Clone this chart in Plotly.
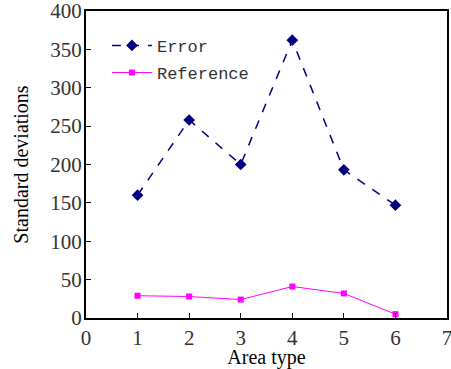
import plotly.graph_objects as go

area_type = [1, 2, 3, 4, 5, 6]
error_vals = [160, 258, 200, 362, 193, 147]
reference_vals = [29, 28, 24, 41, 32, 5]
x_ticks = [0, 1, 2, 3, 4, 5, 6, 7]
y_ticks = [0, 50, 100, 150, 200, 250, 300, 350, 400]

fig = go.Figure()
fig.add_trace(go.Scatter(
    x=area_type, y=error_vals, name="Error", mode="lines+markers",
    legendgroup="e",
    line=dict(color="#000080", width=1.5, dash="dash"),
    marker=dict(symbol="diamond", size=9, color="#000080"),
))
fig.add_trace(go.Scatter(
    x=area_type, y=reference_vals, name="Reference", mode="lines+markers",
    legendgroup="r",
    line=dict(color="#FF00FF", width=1),
    marker=dict(symbol="square", size=6, color="#FF00FF"),
))

serif = "Liberation Serif, Times New Roman, serif"
fig.update_layout(
    width=451, height=369,
    margin=dict(l=86, r=4, t=11, b=51, autoexpand=False),
    plot_bgcolor="white", paper_bgcolor="white",
    showlegend=True,
    legend=dict(x=0.058, y=0.945, xanchor="left", yanchor="top",
                bgcolor="rgba(0,0,0,0)",
                font=dict(family="Liberation Mono, DejaVu Sans Mono, monospace", size=17, color="#333333"),
                itemwidth=40, tracegroupgap=2),
    xaxis=dict(range=[0, 7], tickvals=x_ticks, ticks="inside", ticklen=5,
               tickcolor="black", showgrid=False, zeroline=False, automargin=False,
               showline=True, linecolor="black", linewidth=2, mirror=True,
               ticklabeloverflow="allow",
               tickfont=dict(family=serif, size=21, color="#333333"),
               title=dict(text="Area type", font=dict(family=serif, size=20, color="black"), standoff=2)),
    yaxis=dict(range=[0, 400], tickvals=y_ticks, ticks="inside", ticklen=5,
               tickcolor="black", showgrid=False, zeroline=False, automargin=False,
               showline=True, linecolor="black", linewidth=2, mirror=True,
               ticklabeloverflow="allow",
               tickfont=dict(family=serif, size=21, color="#333333"),
               ticklabelstandoff=-2,
               title=dict(text="Standard deviations", font=dict(family=serif, size=20, color="black"), standoff=16)),
)
fig.write_html("out.html", config={"displayModeBar": False},
               post_script="document.body.style.margin='0';")
